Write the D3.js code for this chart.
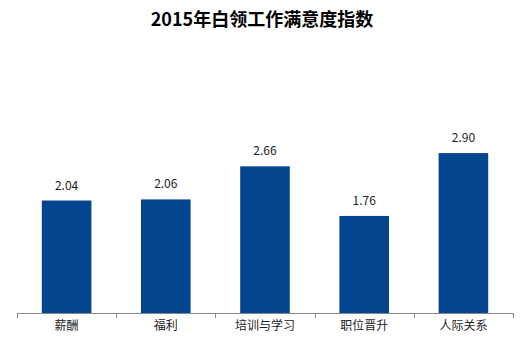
<!DOCTYPE html>
<html>
<head>
<meta charset="utf-8">
<script src="https://cdn.jsdelivr.net/npm/d3@7/dist/d3.min.js"></script>
<style>
  html, body { margin: 0; padding: 0; background: #fff; }
  svg { display: block; }
  text { font-family: "Microsoft YaHei", "Noto Sans CJK SC", sans-serif; }
</style>
</head>
<body>
<div id="chart"></div>
<script>
// 2015年白领工作满意度指数
const categories = ["薪酬", "福利", "培训与学习", "职位晋升", "人际关系"];
const values = [2.04, 2.06, 2.66, 1.76, 2.90];
const title = "2015年白领工作满意度指数";

const W = 531, H = 343;
const margin = { left: 17, right: 18, top: 120, bottom: 30 };
const baseY = H - margin.bottom;

const svg = d3.select("#chart").append("svg")
  .attr("width", W).attr("height", H);

const x = d3.scaleBand()
  .domain(categories)
  .range([margin.left, W - margin.right])
  .padding(0);

const y = d3.scaleLinear()
  .domain([0, 3.5])
  .range([baseY, margin.top]);

const barW = x.bandwidth() * 0.5;

// title
svg.append("text")
  .attr("x", 262).attr("y", 26)
  .attr("text-anchor", "middle")
  .attr("font-size", 18).attr("font-weight", "bold")
  .attr("fill", "#000")
  .text(title);

// bars
svg.selectAll("rect.bar").data(values).join("rect")
  .attr("class", "bar")
  .attr("x", (d, i) => x(categories[i]) + (x.bandwidth() - barW) / 2)
  .attr("y", d => y(d))
  .attr("width", barW)
  .attr("height", d => baseY - y(d))
  .attr("fill", "#04458f");

// value labels
svg.selectAll("text.val").data(values).join("text")
  .attr("class", "val")
  .attr("x", (d, i) => x(categories[i]) + x.bandwidth() / 2)
  .attr("y", d => y(d) - 11)
  .attr("text-anchor", "middle")
  .attr("font-size", 12)
  .attr("fill", "#222")
  .text(d => d.toFixed(2));

// category axis with ticks between bands
const axisG = svg.append("g");
axisG.append("line")
  .attr("x1", margin.left).attr("x2", W - margin.right)
  .attr("y1", baseY + 0.5).attr("y2", baseY + 0.5)
  .attr("stroke", "#888").attr("stroke-width", 1);

const edges = categories.map(c => x(c)).concat([x(categories[categories.length - 1]) + x.bandwidth()]);
axisG.selectAll("line.tick").data(edges).join("line")
  .attr("class", "tick")
  .attr("x1", d => Math.round(d) + 0.5).attr("x2", d => Math.round(d) + 0.5)
  .attr("y1", baseY).attr("y2", baseY + 5)
  .attr("stroke", "#888");

axisG.selectAll("text.cat").data(categories).join("text")
  .attr("class", "cat")
  .attr("x", d => x(d) + x.bandwidth() / 2)
  .attr("y", baseY + 17)
  .attr("text-anchor", "middle")
  .attr("font-size", 12)
  .attr("fill", "#222")
  .text(d => d);
</script>
</body>
</html>
